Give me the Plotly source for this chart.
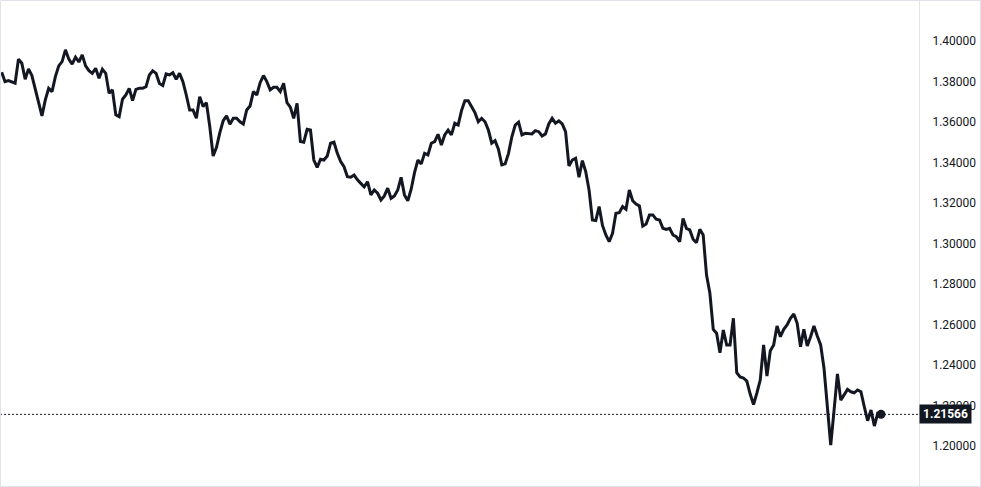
import plotly.graph_objects as go

# Price series (one value per bar, oldest first)
prices = [
    1.3845, 1.3799, 1.3804, 1.3799, 1.3791, 1.3910, 1.3890, 1.3811, 1.3862, 1.3829,
    1.3758, 1.3692, 1.3630, 1.3709, 1.3766, 1.3750, 1.3824, 1.3877, 1.3898, 1.3956,
    1.3910, 1.3885, 1.3920, 1.3896, 1.3931, 1.3877, 1.3853, 1.3840, 1.3865, 1.3816,
    1.3860, 1.3840, 1.3742, 1.3758, 1.3635, 1.3626, 1.3712, 1.3733, 1.3766, 1.3705,
    1.3761, 1.3766, 1.3766, 1.3774, 1.3832, 1.3852, 1.3840, 1.3790, 1.3780, 1.3837,
    1.3832, 1.3843, 1.3811, 1.3840, 1.3799, 1.3733, 1.3659, 1.3659, 1.3618, 1.3725,
    1.3676, 1.3695, 1.3577, 1.3432, 1.3475, 1.3547, 1.3606, 1.3630, 1.3589, 1.3618,
    1.3618, 1.3601, 1.3590, 1.3659, 1.3679, 1.3750, 1.3733, 1.3794, 1.3829, 1.3799,
    1.3758, 1.3771, 1.3771, 1.3750, 1.3791, 1.3695, 1.3673, 1.3618, 1.3692, 1.3503,
    1.3500, 1.3564, 1.3560, 1.3412, 1.3376, 1.3416, 1.3412, 1.3432, 1.3495, 1.3500,
    1.3445, 1.3404, 1.3379, 1.3330, 1.3327, 1.3338, 1.3314, 1.3297, 1.3280, 1.3305,
    1.3240, 1.3264, 1.3248, 1.3215, 1.3235, 1.3273, 1.3223, 1.3235, 1.3264, 1.3327,
    1.3240, 1.3211, 1.3268, 1.3350, 1.3412, 1.3393, 1.3445, 1.3437, 1.3495, 1.3503,
    1.3539, 1.3486, 1.3536, 1.3560, 1.3536, 1.3594, 1.3585, 1.3656, 1.3705, 1.3705,
    1.3676, 1.3646, 1.3601, 1.3618, 1.3601, 1.3560, 1.3495, 1.3508, 1.3465, 1.3388,
    1.3393, 1.3445, 1.3527, 1.3585, 1.3599, 1.3536, 1.3544, 1.3544, 1.3541, 1.3557,
    1.3552, 1.3531, 1.3541, 1.3590, 1.3618, 1.3594, 1.3605, 1.3590, 1.3552, 1.3383,
    1.3412, 1.3421, 1.3327, 1.3409, 1.3355, 1.3264, 1.3116, 1.3113, 1.3182, 1.3089,
    1.3042, 1.3009, 1.3050, 1.3149, 1.3152, 1.3182, 1.3169, 1.3264, 1.3211, 1.3195,
    1.3185, 1.3086, 1.3096, 1.3141, 1.3141, 1.3120, 1.3116, 1.3075, 1.3070, 1.3075,
    1.3042, 1.3034, 1.3009, 1.3124, 1.3075, 1.3067, 1.3021, 1.3004, 1.3070, 1.3042,
    1.2844, 1.2754, 1.2576, 1.2557, 1.2461, 1.2573, 1.2499, 1.2499, 1.2631, 1.2362,
    1.2341, 1.2336, 1.2321, 1.2257, 1.2205, 1.2262, 1.2326, 1.2499, 1.2346, 1.2471,
    1.2499, 1.2593, 1.2540, 1.2576, 1.2598, 1.2631, 1.2652, 1.2606, 1.2490, 1.2576,
    1.2494, 1.2540, 1.2593, 1.2543, 1.2499, 1.2384, 1.2211, 1.2005, 1.2178, 1.2356,
    1.2227, 1.2252, 1.2280, 1.2268, 1.2263, 1.2277, 1.2268, 1.2194, 1.2125, 1.2178,
    1.2099, 1.2161, 1.21566,
]
bars = list(range(len(prices)))

last_price = prices[-1]
last_label = "1.21566"

y_ticks = [1.20, 1.22, 1.24, 1.26, 1.28, 1.30, 1.32, 1.34, 1.36, 1.38, 1.40]
y_tick_labels = ["1.20000", "1.22000", "1.24000", "1.26000", "1.28000", "1.30000",
                 "1.32000", "1.34000", "1.36000", "1.38000", "1.40000"]

INK = "#131722"
BORDER = "#e0e3eb"
W, H = 981, 487
PLOT_W = 919
FONT = "Roboto, 'Liberation Sans', sans-serif"

fig = go.Figure()
fig.add_trace(go.Scatter(
    x=bars, y=prices, mode="lines",
    line=dict(color=INK, width=3, shape="linear"),
    hoverinfo="skip", showlegend=False,
))
fig.add_trace(go.Scatter(
    x=[bars[-1]], y=[last_price], mode="markers",
    marker=dict(color=INK, size=9),
    hoverinfo="skip", showlegend=False,
))

fig.update_layout(
    width=W, height=H,
    margin=dict(l=0, r=W - PLOT_W, t=0, b=0, pad=0),
    paper_bgcolor="white", plot_bgcolor="white",
    font=dict(family=FONT, size=12, color=INK),
    showlegend=False,
    xaxis=dict(
        range=[-0.5, 273.3], visible=False, showgrid=False, zeroline=False,
        fixedrange=True,
    ),
    yaxis=dict(
        side="right", range=[1.1798, 1.4202],
        tickvals=y_ticks, ticktext=y_tick_labels,
        showgrid=False, zeroline=False,
        showline=True, linecolor=BORDER, linewidth=1,
        ticks="", ticklabelstandoff=10,
        tickfont=dict(family=FONT, size=12, color=INK),
    ),
    shapes=[
        dict(type="line", xref="paper", yref="y", x0=0, x1=1,
             y0=last_price, y1=last_price,
             line=dict(color=INK, width=1, dash="2px,2px"), layer="below"),
        dict(type="rect", xref="paper", yref="paper",
             x0=0.5 / PLOT_W, x1=(W - 0.5) / PLOT_W, y0=0.5 / H, y1=1 - 0.5 / H,
             line=dict(color=BORDER, width=1), fillcolor="rgba(0,0,0,0)"),
    ],
    annotations=[
        dict(xref="paper", yref="y", x=1, y=last_price,
             xanchor="left", yanchor="middle", showarrow=False,
             text="<b>" + last_label + "</b>",
             font=dict(family=FONT, size=12, color="white"),
             bgcolor=INK, borderpad=0, width=51, height=18, align="center"),
    ],
)

fig.write_html(
    "out.html",
    config={"displayModeBar": False, "staticPlot": True},
    post_script="document.body.style.margin='0';document.body.style.overflow='hidden';",
)
